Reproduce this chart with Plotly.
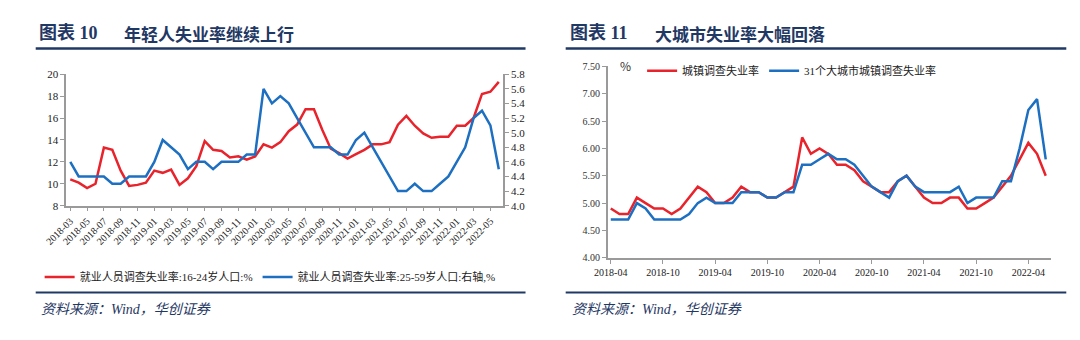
import plotly.graph_objects as go
import pandas as pd

W, H = 1080, 340


def px(x):
    return x / W


def py(y):
    return 1 - y / H


# ---------------- data: left chart (monthly 2018-03 .. 2022-06) ----------------
left_months = pd.date_range("2018-03-01", "2022-06-01", freq="MS").strftime("%Y-%m").tolist()
youth_16_24 = [10.4, 10.1, 9.6, 10.0, 13.3, 13.1, 11.2, 9.8, 9.9, 10.1,
               11.2, 11.0, 11.3, 9.9, 10.5, 11.6, 13.9, 13.1, 13.0, 12.4, 12.5, 12.2,
               12.5, 13.6, 13.3, 13.8, 14.8, 15.4, 16.8, 16.8, 14.9, 13.2, 12.8, 12.3,
               12.7, 13.1, 13.6, 13.6, 13.8, 15.4, 16.2, 15.3, 14.6, 14.2, 14.3, 14.3,
               15.3, 15.3, 16.0, 18.2, 18.4, 19.3]
prime_25_59 = [4.6, 4.4, 4.4, 4.4, 4.4, 4.3, 4.3, 4.4, 4.4, 4.4,
               4.6, 4.9, 4.8, 4.7, 4.5, 4.6, 4.6, 4.5, 4.6, 4.6, 4.6, 4.7,
               4.7, 5.6, 5.4, 5.5, 5.4, 5.2, 5.0, 4.8, 4.8, 4.8, 4.7, 4.7,
               4.9, 5.0, 4.8, 4.6, 4.4, 4.2, 4.2, 4.3, 4.2, 4.2, 4.3, 4.4,
               4.6, 4.8, 5.2, 5.3, 5.1, 4.5]
left_tick_labels = left_months[::2]

# ---------------- data: right chart (monthly 2018-04 .. 2022-06) ----------------
right_months = pd.date_range("2018-04-01", "2022-06-01", freq="MS").strftime("%Y-%m").tolist()
urban_rate = [4.9, 4.8, 4.8, 5.1, 5.0, 4.9, 4.9, 4.8, 4.9,
              5.1, 5.3, 5.2, 5.0, 5.0, 5.1, 5.3, 5.2, 5.2, 5.1, 5.1, 5.2,
              5.3, 6.2, 5.9, 6.0, 5.9, 5.7, 5.7, 5.6, 5.4, 5.3, 5.2, 5.2,
              5.4, 5.5, 5.3, 5.1, 5.0, 5.0, 5.1, 5.1, 4.9, 4.9, 5.0, 5.1,
              5.3, 5.5, 5.8, 6.1, 5.9, 5.5]
city31_rate = [4.7, 4.7, 4.7, 5.0, 4.9, 4.7, 4.7, 4.7, 4.7,
               4.8, 5.0, 5.1, 5.0, 5.0, 5.0, 5.2, 5.2, 5.2, 5.1, 5.1, 5.2,
               5.2, 5.7, 5.7, 5.8, 5.9, 5.8, 5.8, 5.7, 5.5, 5.3, 5.2, 5.1,
               5.4, 5.5, 5.3, 5.2, 5.2, 5.2, 5.2, 5.3, 5.0, 5.1, 5.1, 5.1,
               5.4, 5.4, 6.0, 6.7, 6.9, 5.8]
right_tick_labels = right_months[::6]

RED = "#E8232B"
BLUE = "#1C6FC1"
NAVY = "#1F3864"
AXIS = "#9A9A9A"
SERIF = "Liberation Serif, Noto Sans CJK SC"
CJK = "Noto Sans CJK SC"

fig = go.Figure()
fig.add_trace(go.Scatter(x=left_months, y=youth_16_24, mode="lines",
                         name="就业人员调查失业率:16-24岁人口:%",
                         line=dict(color=RED, width=2.5),
                         xaxis="x", yaxis="y", legend="legend"))
fig.add_trace(go.Scatter(x=left_months, y=prime_25_59, mode="lines",
                         name="就业人员调查失业率:25-59岁人口:右轴,%",
                         line=dict(color=BLUE, width=2.5),
                         xaxis="x", yaxis="y2", legend="legend"))
fig.add_trace(go.Scatter(x=right_months, y=urban_rate, mode="lines",
                         name="城镇调查失业率",
                         line=dict(color=RED, width=2.5),
                         xaxis="x3", yaxis="y3", legend="legend2"))
fig.add_trace(go.Scatter(x=right_months, y=city31_rate, mode="lines",
                         name="31个大城市城镇调查失业率",
                         line=dict(color=BLUE, width=2.5),
                         xaxis="x3", yaxis="y3", legend="legend2"))

tickfont = dict(family=SERIF, size=10, color="#222222")
axis_common = dict(showline=True, linecolor=AXIS, linewidth=1.5, ticks="outside",
                   ticklen=4, tickcolor=AXIS, showgrid=False, zeroline=False,
                   tickfont=tickfont)
axis_nofont = {k: v for k, v in axis_common.items() if k != "tickfont"}

fig.update_layout(
    width=W, height=H, margin=dict(l=0, r=0, t=0, b=0),
    paper_bgcolor="white", plot_bgcolor="white", showlegend=True,
    xaxis=dict(domain=[px(45), px(491)], anchor="y", type="category",
               range=[-0.5, len(left_months) - 0.5], tickmode="array",
               tickvals=left_tick_labels, ticktext=left_tick_labels,
               tickangle=-45, **axis_common),
    yaxis=dict(domain=[py(207), py(70.7)], anchor="x", range=[8, 20], dtick=2,
               tickfont=dict(family=SERIF, size=11, color="#222222"), **axis_nofont),
    yaxis2=dict(overlaying="y", side="right", anchor="x", range=[4.0, 5.8],
                dtick=0.2, tickformat=".1f",
                tickfont=dict(family=SERIF, size=11, color="#222222"), **axis_nofont),
    xaxis3=dict(domain=[px(598), px(1050)], anchor="y3", type="category",
                range=[-0.34, len(right_months) - 0.44], tickmode="array",
                tickvals=right_tick_labels, ticktext=right_tick_labels,
                tickangle=0, **axis_common),
    yaxis3=dict(domain=[py(261), py(62.5)], anchor="x3", range=[4.0, 7.5],
                dtick=0.5, tickformat=".2f",
                tickfont=dict(family=SERIF, size=10, color="#333333"), **axis_nofont),
    legend=dict(orientation="h", x=px(18), y=py(281), xanchor="left", yanchor="middle",
                font=dict(family=SERIF, size=11, color="#222222"), itemwidth=30,
                bgcolor="rgba(0,0,0,0)", traceorder="normal"),
    legend2=dict(orientation="h", x=px(633), y=py(67), xanchor="left", yanchor="middle",
                 font=dict(family=SERIF, size=11, color="#222222"), itemwidth=30,
                 bgcolor="rgba(0,0,0,0)", traceorder="normal"),
)

shapes = []
for x0, x1 in [(14, 514), (555, 1066)]:
    shapes.append(dict(type="line", xref="paper", yref="paper", x0=px(x0), x1=px(x1),
                       y0=py(44), y1=py(44), line=dict(color=NAVY, width=2.5)))
    shapes.append(dict(type="line", xref="paper", yref="paper", x0=px(x0), x1=px(x1),
                       y0=py(297), y1=py(297), line=dict(color=NAVY, width=2)))
fig.update_layout(shapes=shapes)

ann = []
for x_num, num, x_txt, txt in [(15, "图表 10", 102, "年轻人失业率继续上行"),
                               (557, "图表 11", 644, "大城市失业率大幅回落")]:
    ann.append(dict(text="<b>" + num + "</b>", x=px(x_num), y=py(28), xref="paper", yref="paper",
                    xanchor="left", yanchor="middle", showarrow=False,
                    font=dict(family=SERIF, size=18, color=NAVY)))
    ann.append(dict(text="<b>" + txt + "</b>", x=px(x_txt), y=py(28), xref="paper", yref="paper",
                    xanchor="left", yanchor="middle", showarrow=False,
                    font=dict(family=CJK, size=17, color=NAVY)))
for x0 in (17, 559):
    ann.append(dict(text="资料来源：Wind，华创证券", x=px(x0), y=py(315), xref="paper", yref="paper",
                    xanchor="left", yanchor="middle", showarrow=False,
                    font=dict(family=SERIF, size=14, color=NAVY, style="italic")))
ann.append(dict(text="%", x=px(608), y=py(62), xref="paper", yref="paper",
                xanchor="left", yanchor="middle", showarrow=False,
                font=dict(family=CJK, size=12, color="#333333")))
fig.update_layout(annotations=ann)

fig.write_html("out.html")
